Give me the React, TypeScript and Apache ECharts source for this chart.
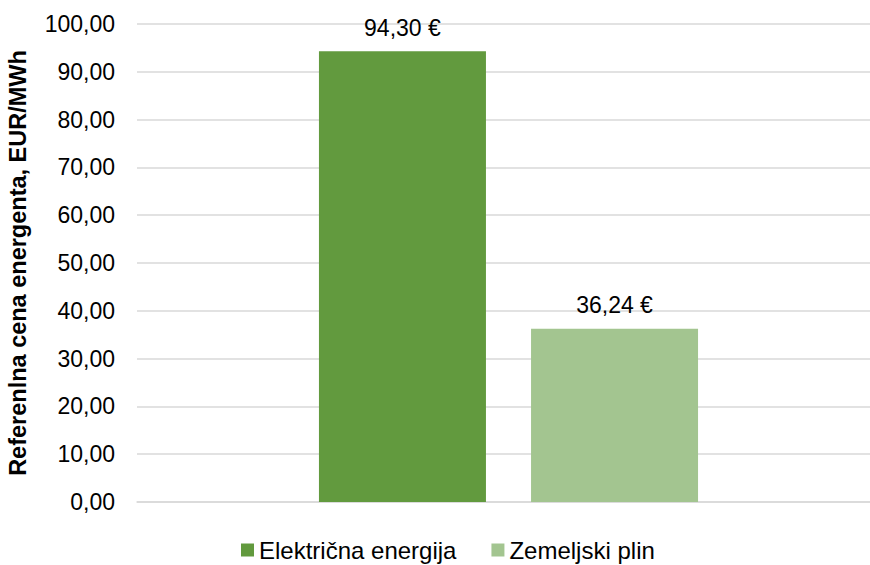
import React, { useEffect, useRef } from "react";
import * as echarts from "echarts";

const categories = [""];
const seriesNames = ["Električna energija", "Zemeljski plin"];
const elektrika = [94.3];
const plin = [36.24];
const colors = ["#629a3e", "#a3c590"];

const fmt = (v: number) => v.toFixed(2).replace(".", ",");

export default function App() {
  const ref = useRef<HTMLDivElement>(null);
  useEffect(() => {
    const chart = echarts.init(ref.current!, null, { renderer: "svg" });
    const font = "'Liberation Sans', Arial, sans-serif";
    const labelCfg = {
      show: true,
      position: "top",
      distance: 12,
      fontSize: 23,
      color: "#000",
      fontFamily: font,
      formatter: (p: any) => fmt(p.value) + " €",
    };
    chart.setOption({
      animation: false,
      textStyle: { fontFamily: font },
      grid: { left: 137, right: -10, top: 24, bottom: 63, outerBoundsMode: "none" },
      legend: {
        top: 538,
        left: 241,
        padding: 0,
        itemWidth: 13,
        itemHeight: 13,
        itemGap: 35,
        icon: "rect",
        textStyle: { fontSize: 24, color: "#000", fontFamily: font },
        data: seriesNames,
      },
      xAxis: {
        type: "category",
        data: categories,
        axisLine: { lineStyle: { color: "#d9d9d9", width: 1.5 } },
        axisTick: { show: false },
        axisLabel: { show: false },
      },
      yAxis: {
        type: "value",
        min: 0,
        max: 100,
        interval: 10,
        name: "Referenlna cena energenta, EUR/MWh",
        nameLocation: "middle",
        nameGap: 107,
        nameRotate: 90,
        nameTextStyle: { fontSize: 23.5, fontWeight: "bold", color: "#000", fontFamily: font },
        axisLine: { show: false },
        axisTick: { show: false },
        axisLabel: {
          fontSize: 23,
          color: "#000",
          margin: 22,
          fontFamily: font,
          formatter: (v: number) => fmt(v),
        },
        splitLine: { lineStyle: { color: "#d9d9d9", width: 1.5 } },
      },
      series: [
        {
          name: seriesNames[0],
          type: "bar",
          data: elektrika,
          barWidth: 167,
          barGap: "27%",
          itemStyle: { color: colors[0] },
          label: labelCfg,
        },
        {
          name: seriesNames[1],
          type: "bar",
          data: plin,
          barWidth: 167,
          itemStyle: { color: colors[1] },
          label: labelCfg,
        },
      ],
    });
    return () => chart.dispose();
  }, []);
  return <div ref={ref} style={{ width: 870, height: 565, position: "absolute", left: 0, top: 0 }} />;
}
